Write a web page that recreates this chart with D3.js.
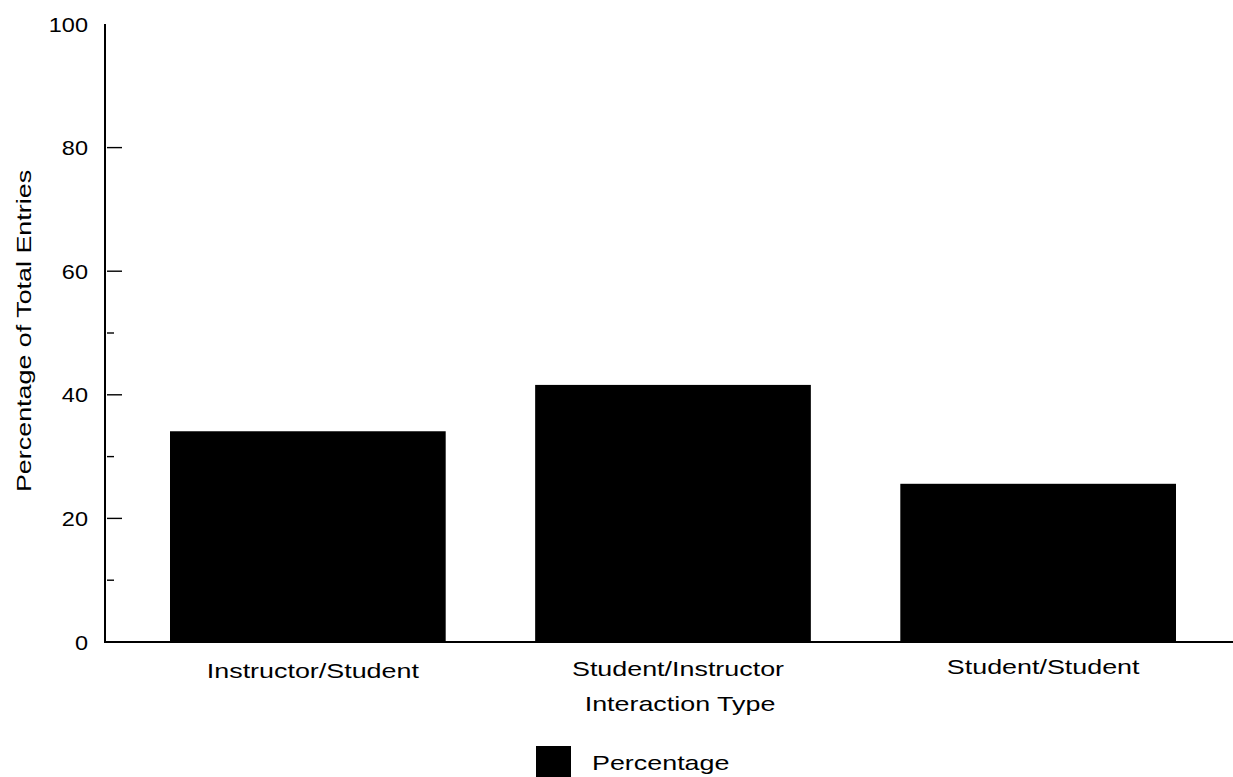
<!DOCTYPE html>
<html><head><meta charset="utf-8">
<script src="https://cdn.jsdelivr.net/npm/d3@7"></script>
<style>body{margin:0;background:#fff}svg{display:block}text{font-family:"Liberation Sans",Arial,sans-serif;fill:#000;font-size:21px}</style>
</head><body><svg id="c" width="1233" height="777"></svg>
<script>
const categories = ["Instructor/Student", "Student/Instructor", "Student/Student"];
const values = [34.1, 41.6, 25.6];
const yTicks = [0, 20, 40, 60, 80, 100];
const yMinorTicks = [10, 30, 50];
const xTitle = "Interaction Type";
const yTitle = "Percentage of Total Entries";
const legendLabel = "Percentage";

const svg = d3.select("#c");
const W = 1233;
const axisX = 105;
const SX = 1.28;   // wide-glyph look of the original typeface
const x = d3.scaleBand().domain(categories).range([170, 1176]).paddingInner(0.245).paddingOuter(0);
const y = d3.scaleLinear().domain([0, 100]).range([642, 24]);

function label(parent, tx, ty, str, anchor, sx, rot) {
  const g = parent.append("g").attr("transform", `translate(${tx},${ty})` + (rot ? ` rotate(${rot})` : "") + ` scale(${sx},1)`);
  g.append("text").attr("text-anchor", anchor).text(str);
  return g;
}

// bars
svg.selectAll("rect.bar").data(values).join("rect").attr("class","bar")
  .attr("x", (d,i)=>x(categories[i])).attr("width", x.bandwidth())
  .attr("y", d=>y(d)).attr("height", d=>y(0)-y(d)).attr("fill","#000");

// y axis
const ya = svg.append("g").attr("transform",`translate(${axisX},0)`);
ya.append("line").attr("x1",0).attr("x2",0).attr("y1",y(100)).attr("y2",y(0)).attr("stroke","#000").attr("stroke-width",2);
ya.selectAll("line.maj").data(yTicks.filter(d=>d>0 && d<100)).join("line").attr("class","maj")
  .attr("x1",2).attr("x2",17).attr("y1",d=>y(d)).attr("y2",d=>y(d)).attr("stroke","#000").attr("stroke-width",1.4);
ya.selectAll("line.min").data(yMinorTicks).join("line").attr("class","min")
  .attr("x1",2).attr("x2",9).attr("y1",d=>y(d)).attr("y2",d=>y(d)).attr("stroke","#000").attr("stroke-width",1.4);
yTicks.forEach(d => label(ya, -17, y(d)+7.5, String(d), "end", 1.12));

// x axis
svg.append("line").attr("x1",axisX-1).attr("x2",W).attr("y1",y(0)).attr("y2",y(0)).attr("stroke","#000").attr("stroke-width",2);
const labelBase = [678, 676, 674];
categories.forEach((c,i) => label(svg, x(c)+x.bandwidth()/2 + 5, labelBase[i], c, "middle", SX));
label(svg, x(categories[1])+x.bandwidth()/2 + 7, 711, xTitle, "middle", SX);

// y title
label(svg, 31, 331, yTitle, "middle", SX, -90);

// legend
svg.append("rect").attr("x",536).attr("y",746).attr("width",35).attr("height",31).attr("fill","#000");
label(svg, 592, 770, legendLabel, "start", SX);
</script></body></html>
